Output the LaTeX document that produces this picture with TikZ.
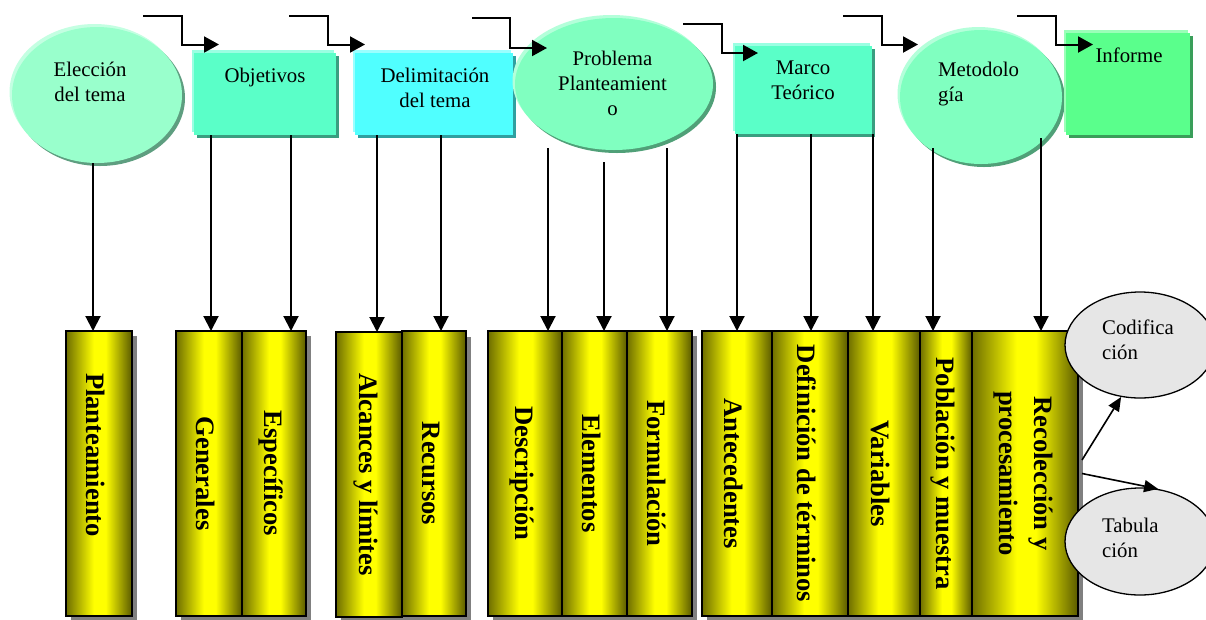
\documentclass[tikz,border=0pt]{standalone}
\usepackage{fontspec}
\setmainfont{Liberation Serif}
\usetikzlibrary{arrows.meta,shadows,shapes.geometric,calc}
\definecolor{barD}{HTML}{6E6E00}
\definecolor{barE}{HTML}{5A5A00}
\definecolor{barY}{HTML}{FFFF00}
\pgfdeclarehorizontalshading{cyl}{100bp}{color(0bp)=(barD); color(25bp)=(barD); color(46bp)=(barY); color(55bp)=(barY); color(75bp)=(barE); color(100bp)=(barE)}
\definecolor{eleF}{HTML}{99FFCC}\definecolor{eleH}{HTML}{C4FFE2}\definecolor{eleS}{HTML}{5E9E80}
\definecolor{objF}{HTML}{5AFFC8}\definecolor{objH}{HTML}{9AFFE2}\definecolor{objS}{HTML}{3A9E80}
\definecolor{delF}{HTML}{50FFFF}\definecolor{delH}{HTML}{9AFFFF}\definecolor{delS}{HTML}{30A0A0}
\definecolor{proF}{HTML}{80FFC0}\definecolor{proH}{HTML}{B4FFDA}\definecolor{proS}{HTML}{50A078}
\definecolor{infF}{HTML}{5AFF8C}\definecolor{infH}{HTML}{9AFFB8}\definecolor{infS}{HTML}{3A9E5A}
\definecolor{grayE}{HTML}{E6E6E6}
\pgfdeclarelayer{bg}
\pgfsetlayers{bg,main}
\begin{document}
\begin{tikzpicture}[x=1pt,y=-1pt,
  lbl/.style={font=\fontsize{20.8}{25}\selectfont, align=center, inner sep=0pt},
  bt/.style={font=\fontsize{26.6}{35}\selectfont\bfseries, align=center, inner sep=0pt, rotate=-90},
  bar/.style={draw=black, line width=1.2pt, shading=cyl, minimum width=#1, minimum height=285pt, inner sep=0pt, outer sep=0pt},
  topshape/.style n args={3}{fill=#1, draw=none, inner sep=0pt, outer sep=0pt,
     general shadow={fill=#2, shadow xshift=-2.5pt, shadow yshift=3pt},
     general shadow={fill=#3, shadow xshift=3pt, shadow yshift=-3pt}},
  ell/.style={ellipse, minimum width=#1},
  grayell/.style={ellipse, draw=black, line width=1.3pt, fill=grayE, minimum width=150pt, minimum height=106pt, inner sep=0pt},
  elb/.style={line width=2pt, -{Triangle[length=15pt,width=16pt]}},
  varr/.style={line width=2pt, -{Triangle[length=15pt,width=15pt]}},
  rarr/.style={line width=1.6pt, -{Triangle[length=14pt,width=12pt]}},
  bshadow/.style={fill=gray}
]
\useasboundingbox (0,0) rectangle (1206,619);
\clip (0,0) rectangle (1206,619);

% top shapes
\node[ell=170pt, minimum height=136pt, topshape={eleF}{eleH}{eleS}] (ele) at (97,95) {};
\node[rectangle, minimum width=142pt, minimum height=82pt, topshape={objF}{objH}{objS}] (obj) at (265,94) {};
\node[rectangle, minimum width=158pt, minimum height=82pt, topshape={delF}{delH}{delS}] (del) at (434,94) {};
\node[ell=198pt, minimum height=132pt, topshape={proF}{proH}{proS}] (pro) at (614,84) {};
\node[rectangle, minimum width=137pt, minimum height=88pt, topshape={objF}{objH}{objS}] (mar) at (803.5,90) {};
\node[ell=162pt, minimum height=134pt, topshape={proF}{proH}{proS}] (met) at (981,97) {};
\node[rectangle, minimum width=124pt, minimum height=102pt, topshape={infF}{infH}{infS}] (inf) at (1128,84) {};

% top labels
\node[lbl] (eleT) at (90,82) {Elección\\del tema};
\node[lbl] (objT) at (265,77) {Objetivos};
\node[lbl] (delT) at (435,87.5) {Delimitación\\del tema};
\node[lbl] (proT) at (612.5,83) {Problema\\Planteamient\\o};
\node[lbl] (marT) at (803,80) {Marco\\Teórico};
\node[lbl, align=left, anchor=west] (metT) at (938,84.5) {Metodolo\\gía};
\node[lbl] (infT) at (1129,55) {Informe};

% elbow arrows
\coordinate (a1) at (143,15.5); \coordinate (b1) at (219,44.5);
\coordinate (a2) at (289,15.5); \coordinate (b2) at (365,44.5);
\coordinate (a3) at (472,18);   \coordinate (b3) at (547,48);
\coordinate (a4) at (683,24);   \coordinate (b4) at (758,53);
\coordinate (a5) at (843,15.5); \coordinate (b5) at (918,44.5);
\coordinate (a6) at (1017,15.5);\coordinate (b6) at (1093,44.5);
\draw[elb] (a1) -- ++(38.5,0) |- (b1);
\draw[elb] (a2) -- ++(39,0) |- (b2);
\draw[elb] (a3) -- ++(37.5,0) |- (b3);
\draw[elb] (a4) -- ++(39,0) |- (b4);
\draw[elb] (a5) -- ++(39,0) |- (b5);
\draw[elb] (a6) -- ++(39,0) |- (b6);

% bars
\node[bar=66pt] (plan) at (99,473.5) {};
\node[bar=66pt] (gen)  at (209,473.5) {};
\node[bar=64pt] (esp)  at (274,473.5) {};
\node[bar=66pt] (alc)  at (369,474.5) {};
\node[bar=64pt] (rec)  at (434,473.5) {};
\node[bar=74pt] (desc) at (525,473.5) {};
\node[bar=65pt] (elem) at (594.5,473.5) {};
\node[bar=65pt] (form) at (659.5,473.5) {};
\node[bar=70pt] (ant)  at (737,473.5) {};
\node[bar=76pt] (def)  at (810,473.5) {};
\node[bar=72pt] (var)  at (884,473.5) {};
\node[bar=52pt] (pob)  at (946,473.5) {};
\node[bar=106pt] (reco) at (1025,473.5) {};

\begin{pgfonlayer}{bg}
\fill[white] (0,0) rectangle (1206,619);
\fill[bshadow] ($(plan.north west)+(5,5)$) rectangle ($(plan.south east)+(5,5)$);
\fill[bshadow] ($(gen.north west)+(5,5)$) rectangle ($(esp.south east)+(5,5)$);
\fill[bshadow] ($(alc.north west)+(5,5)$) rectangle ($(rec.south east)+(5,5)$);
\fill[bshadow] ($(desc.north west)+(5,5)$) rectangle ($(form.south east)+(5,5)$);
\fill[bshadow] ($(ant.north west)+(5,5)$) rectangle ($(reco.south east)+(5,5)$);
\end{pgfonlayer}

% bar labels
\node[bt] (planT) at ($(plan.center)+(-3,-18.5)$) {Planteamiento};
\node[bt] (genT)  at ($(gen.center)+(-3,0)$) {Generales};
\node[bt] (espT)  at ($(esp.center)+(-3,0)$) {Específicos};
\node[bt] (alcT)  at ($(alc.center)+(-3,0)$) {Alcances y límites};
\node[bt] (recT)  at ($(rec.center)+(-3,0)$) {Recursos};
\node[bt] (descT) at ($(desc.center)+(-3,0)$) {Descripción};
\node[bt] (elemT) at ($(elem.center)+(-3,0)$) {Elementos};
\node[bt] (formT) at ($(form.center)+(-3,0)$) {Formulación};
\node[bt] (antT)  at ($(ant.center)+(-3,0)$) {Antecedentes};
\node[bt] (defT)  at ($(def.center)+(-3,0)$) {Definición de términos};
\node[bt] (varT)  at ($(var.center)+(-3,0)$) {Variables};
\node[bt] (pobT)  at ($(pob.center)+(-3,0)$) {Población y muestra};
\node[bt] (recoT) at ($(reco.center)+(-2,0)$) {Recolección y\\procesamiento};

% vertical connectors
\draw[varr] (ele.south -| 93,0) -- (plan.north -| 93,0);
\draw[varr] (obj.south -| 211,0) -- (gen.north -| 211,0);
\draw[varr] (obj.south -| 291,0) -- (esp.north -| 291,0);
\draw[varr] (del.south -| 377,0) -- (alc.north -| 377,0);
\draw[varr] (del.south -| 441,0) -- (rec.north -| 441,0);
\draw[varr] (pro.center) ++(-66,64) -- (desc.north -| 548,0);
\draw[varr] (pro.center) ++(-10,78) -- (elem.north -| 604,0);
\draw[varr] (pro.center) ++(53,64) -- (form.north -| 667,0);
\draw[varr] (mar.south -| 737,0) -- (ant.north -| 737,0);
\draw[varr] (mar.south -| 811,0) -- (def.north -| 811,0);
\draw[varr] (mar.south -| 873,0) -- (var.north -| 873,0);
\draw[varr] (met.center) ++(-48,51) -- (pob.north -| 933,0);
\draw[varr] (met.center) ++(60,41) -- (reco.north -| 1041,0);

% gray ellipses
\node[grayell] (cod) at (1140,345) {};
\node[grayell, minimum height=107pt] (tab) at (1140,541.5) {};
\node[lbl, align=left, anchor=west] (codT) at (1102,339.5) {Codifica\\ción};
\node[lbl, align=left, anchor=west] (tabT) at (1102,537.5) {Tabula\\ción};

\draw[rarr] ($(reco.east)+(4,-13.5)$) -- (cod.-110);
\draw[rarr] ($(reco.east)+(4,0)$) -- (tab.71);
\end{tikzpicture}
\end{document}
